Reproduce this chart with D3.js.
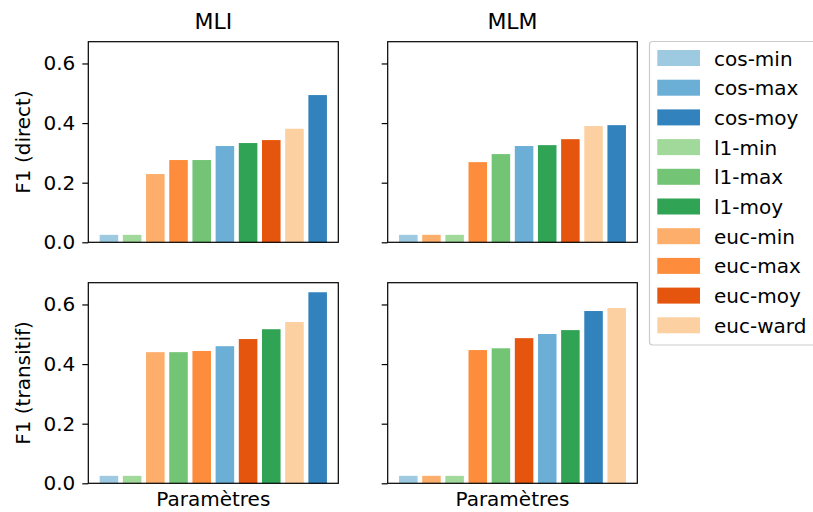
<!DOCTYPE html>
<html>
<head>
<meta charset="utf-8">
<script src="https://cdn.jsdelivr.net/npm/d3@7"></script>
<style>
  html, body { margin: 0; padding: 0; background: #fff; }
  svg { display: block; font-family: "DejaVu Sans", sans-serif; }
</style>
</head>
<body>
<svg id="chart" width="813" height="512"></svg>
<script>
// Clustering parameters and their colours
const methods = ["cos-min", "cos-max", "cos-moy", "l1-min", "l1-max", "l1-moy",
                 "euc-min", "euc-max", "euc-moy", "euc-ward"];
const methodColors = ["#9ecae1", "#6baed6", "#3182bd", "#a1d99b", "#74c476", "#31a354",
                      "#fdae6b", "#fd8d3c", "#e6550d", "#fdd0a2"];

// Column / row headers
const corpora = ["MLI", "MLM"];
const measures = ["F1 (direct)", "F1 (transitif)"];
const yTicks = [0.0, 0.2, 0.4, 0.6];

// Bars of each panel, sorted by score
const mliDirectOrder = ["cos-min", "l1-min", "euc-min", "euc-max", "l1-max", "cos-max", "l1-moy", "euc-moy", "euc-ward", "cos-moy"];
const mliDirectValues = [0.025, 0.025, 0.229, 0.276, 0.276, 0.323, 0.333, 0.343, 0.381, 0.494];

const mlmDirectOrder = ["cos-min", "euc-min", "l1-min", "euc-max", "l1-max", "cos-max", "l1-moy", "euc-moy", "euc-ward", "cos-moy"];
const mlmDirectValues = [0.025, 0.025, 0.025, 0.269, 0.296, 0.323, 0.326, 0.346, 0.390, 0.393];

const mliTransOrder = ["cos-min", "l1-min", "euc-min", "l1-max", "euc-max", "cos-max", "euc-moy", "l1-moy", "euc-ward", "cos-moy"];
const mliTransValues = [0.025, 0.025, 0.440, 0.440, 0.444, 0.460, 0.484, 0.517, 0.541, 0.641];

const mlmTransOrder = ["cos-min", "euc-min", "l1-min", "euc-max", "l1-max", "euc-moy", "cos-max", "l1-moy", "cos-moy", "euc-ward"];
const mlmTransValues = [0.025, 0.025, 0.025, 0.447, 0.453, 0.487, 0.501, 0.514, 0.578, 0.588];

const grid = [
  [{ order: mliDirectOrder, values: mliDirectValues }, { order: mlmDirectOrder, values: mlmDirectValues }],
  [{ order: mliTransOrder, values: mliTransValues }, { order: mlmTransOrder, values: mlmTransValues }]
];

const color = d3.scaleOrdinal().domain(methods).range(methodColors);

const svg = d3.select("#chart");

// Panel geometry
const colX = [[88.3, 338.3], [387.7, 637.3]];
const rowY = [[41.7, 242.3], [282.7, 483.3]];
const allValues = [].concat(mliDirectValues, mlmDirectValues, mliTransValues, mlmTransValues);
const yMax = d3.max(allValues) * 1.05;

grid.forEach((row, r) => {
  row.forEach((panel, c) => {
    const [x0, x1] = colX[c];
    const [y0, y1] = rowY[r];
    const n = panel.order.length;
    const pad = 0.05 * (n - 0.2);
    const x = d3.scaleLinear().domain([-0.4 - pad, n - 0.6 + pad]).range([x0, x1]);
    const y = d3.scaleLinear().domain([0, yMax]).range([y1, y0]);
    const g = svg.append("g");

    g.selectAll("rect.bar")
      .data(panel.order.map((m, i) => ({ m, i, v: panel.values[i] })))
      .join("rect")
      .attr("class", "bar")
      .attr("x", d => x(d.i - 0.4))
      .attr("width", d => x(d.i + 0.4) - x(d.i - 0.4))
      .attr("y", d => y(d.v))
      .attr("height", d => y(0) - y(d.v))
      .attr("fill", d => color(d.m));

    // Y axis: labels only on the left column
    const yAxis = d3.axisLeft(y).tickValues(yTicks).tickSize(6).tickPadding(7)
      .tickFormat(c === 0 ? d3.format(".1f") : () => "");
    const ay = g.append("g").attr("transform", `translate(${x0},0)`).call(yAxis);
    ay.select(".domain").remove();
    ay.selectAll("line").attr("stroke", "#000").attr("stroke-width", 1.2);
    ay.selectAll("text").attr("font-size", 20).attr("fill", "#000")
      .attr("font-family", "DejaVu Sans, sans-serif");

    // Frame
    g.append("rect")
      .attr("x", x0).attr("y", y0)
      .attr("width", x1 - x0).attr("height", y1 - y0)
      .attr("fill", "none").attr("stroke", "#000").attr("stroke-width", 1.2);

    if (r === 0) {
      g.append("text")
        .attr("x", (x0 + x1) / 2).attr("y", 29)
        .attr("text-anchor", "middle").attr("font-size", 22)
        .text(corpora[c]);
    }
    if (r === 1) {
      g.append("text")
        .attr("x", (x0 + x1) / 2).attr("y", 506)
        .attr("text-anchor", "middle").attr("font-size", 20)
        .text("Paramètres");
    }
    if (c === 0) {
      g.append("text")
        .attr("transform", `translate(30,${(y0 + y1) / 2}) rotate(-90)`)
        .attr("text-anchor", "middle").attr("font-size", 20)
        .text(measures[r]);
    }
  });
});

// Legend
const legend = svg.append("g");
legend.append("rect")
  .attr("x", 649.5).attr("y", 41.5)
  .attr("width", 180).attr("height", 303.5)
  .attr("rx", 3)
  .attr("fill", "#fff").attr("stroke", "#cccccc").attr("stroke-width", 1.2);
const item = legend.selectAll("g.item")
  .data(methods)
  .join("g")
  .attr("class", "item")
  .attr("transform", (d, i) => `translate(0,${50 + i * 29.7})`);
item.append("rect")
  .attr("x", 657.3).attr("y", 0)
  .attr("width", 42.7).attr("height", 16)
  .attr("fill", d => color(d));
item.append("text")
  .attr("x", 714).attr("y", 15.5)
  .attr("font-size", 20)
  .text(d => d);
</script>
</body>
</html>
